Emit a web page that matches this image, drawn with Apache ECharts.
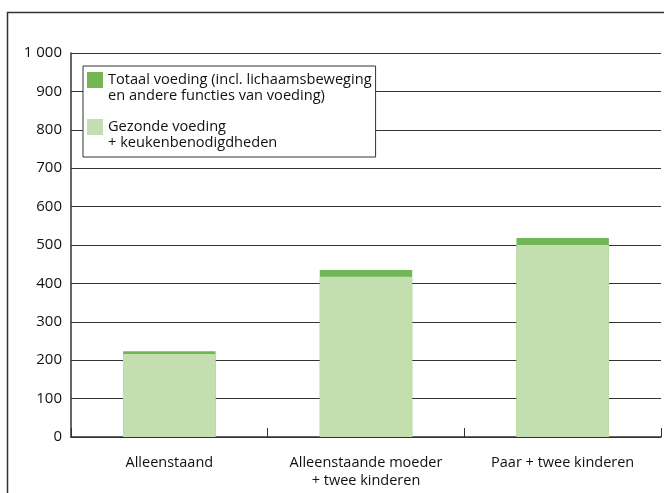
<!DOCTYPE html>
<html>
<head>
<meta charset="utf-8">
<script src="https://cdn.jsdelivr.net/npm/echarts@6/dist/echarts.min.js"></script>
<style>
html,body{margin:0;padding:0;background:#fff;}
#chart{width:664px;height:493px;}
</style>
</head>
<body>
<div id="chart"></div>
<script>
var categories = ['Alleenstaand', 'Alleenstaande moeder\n+ twee kinderen', 'Paar + twee kinderen'];
var totaalVoeding = [223, 435, 518];
var gezondeVoeding = [216, 417, 500];
var seriesNames = ['Totaal voeding (incl. lichaamsbeweging\nen andere functies van voeding)', 'Gezonde voeding\n+ keukenbenodigdheden'];

var FONT = '"Open Sans", sans-serif';
var chart = echarts.init(document.getElementById('chart'), null, {renderer: 'canvas'});
var icon = 'path://M0,0h10v10h-10z M0,20h0.01v0.01h-0.01z';
chart.setOption({
  animation: false,
  textStyle: {fontFamily: FONT},
  graphic: [{
    type: 'rect', z: 100, silent: true,
    shape: {x: 7.5, y: 12.5, width: 700, height: 520},
    style: {fill: 'none', stroke: '#333', lineWidth: 1.5}
  }],
  grid: {left: 71, right: 3, top: 53, bottom: 56, containLabel: false},
  legend: {
    orient: 'vertical', left: 83, top: 66,
    padding: [6, 4, 6, 4],
    borderColor: '#333', borderWidth: 1, borderRadius: 0,
    backgroundColor: '#fff',
    itemWidth: 16, itemHeight: 32, itemGap: 15,
    icon: icon,
    textStyle: {fontFamily: FONT, fontSize: 14.6, color: '#111', lineHeight: 16},
    data: [{name: seriesNames[0], icon: icon}, {name: seriesNames[1], icon: icon}]
  },
  xAxis: {
    type: 'category', data: categories,
    axisLine: {lineStyle: {color: '#333', width: 1.5}},
    axisTick: {show: true, inside: true, length: 9, alignWithLabel: false, lineStyle: {color: '#333'}},
    axisLabel: {fontFamily: FONT, fontSize: 14.5, color: '#111', margin: 17, lineHeight: 18, interval: 0}
  },
  yAxis: {
    type: 'value', min: 0, max: 1000, interval: 100,
    axisLine: {show: true, lineStyle: {color: '#333', width: 1.5}},
    axisTick: {show: false},
    splitLine: {lineStyle: {color: '#333', width: 1}},
    axisLabel: {fontFamily: FONT, fontSize: 15, color: '#111', margin: 9,
      formatter: function (v) { return v >= 1000 ? String(v).replace(/\B(?=(\d{3})+(?!\d))/g, ' ') : String(v); }}
  },
  series: [
    {name: seriesNames[0], type: 'bar', data: totaalVoeding, barWidth: '47%', barGap: '-100%',
     itemStyle: {color: '#71b757'}},
    {name: seriesNames[1], type: 'bar', data: gezondeVoeding, barWidth: '47%', barGap: '-100%',
     itemStyle: {color: '#c3dfb0'}}
  ]
});
</script>
</body>
</html>
